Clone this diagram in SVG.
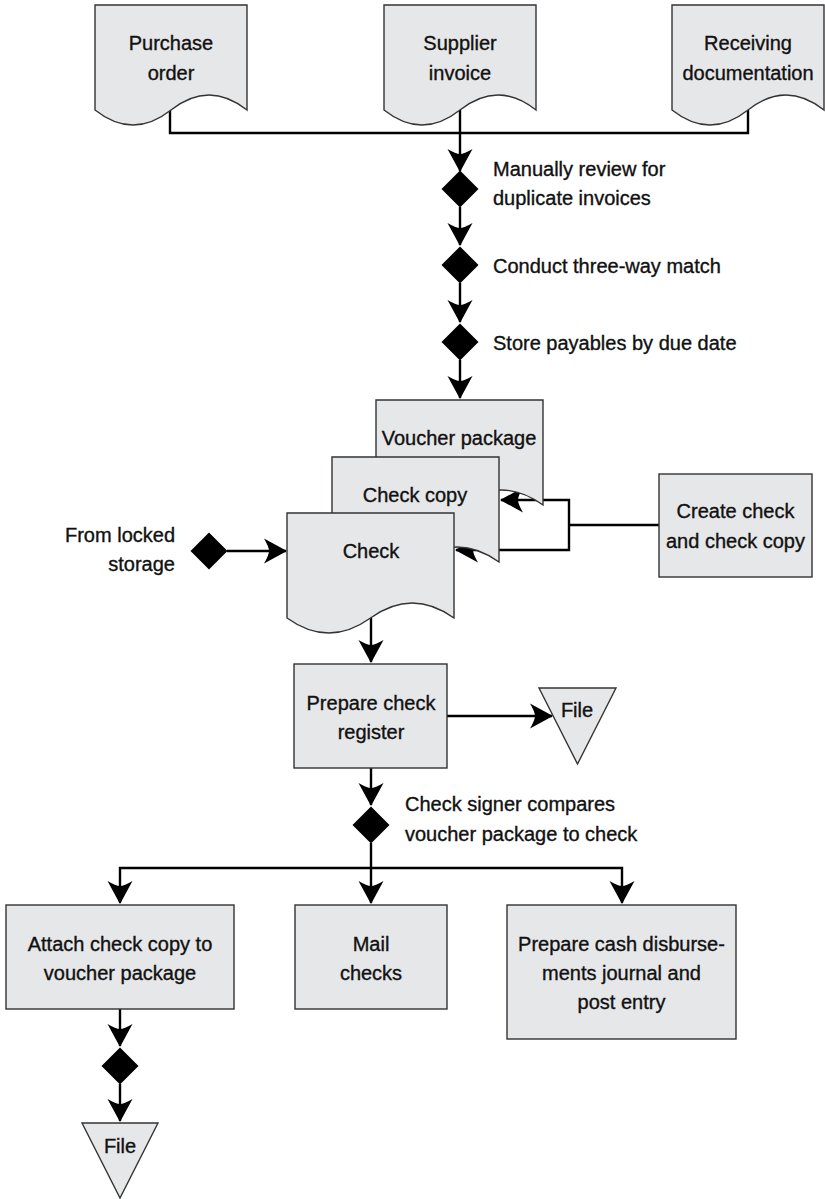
<svg xmlns="http://www.w3.org/2000/svg" width="825" height="1199" viewBox="0 0 825 1199">
<defs>
<style>
.doc,.box,.file{fill:#e6e7e8;stroke:#333;stroke-width:1.4}
.dia{fill:#000}
.ln{fill:none;stroke:#000;stroke-width:2.4}
text{font-family:"Liberation Sans",Arial,Helvetica,sans-serif;font-size:20px;fill:#111;stroke:#111;stroke-width:0.35px}
.c{text-anchor:middle}
.e{text-anchor:end}
</style>
<marker id="ah" viewBox="-23 -14 25 28" markerWidth="25" markerHeight="28" refX="0" refY="0" orient="auto-start-reverse" markerUnits="userSpaceOnUse">
<path d="M1,0 L-22,-12.5 Q-17,-4 -17,0 Q-17,4 -22,12.5 Z" fill="#000"/>
</marker>
</defs>
<rect width="825" height="1199" fill="#fff"/>

<g id="connectors">
<path class="ln" d="M170,110 V133 H748 V110"/>
<path class="ln" d="M460,110 V171" marker-end="url(#ah)"/>
<path class="ln" d="M460,207 V245" marker-end="url(#ah)"/>
<path class="ln" d="M460,283 V322" marker-end="url(#ah)"/>
<path class="ln" d="M460,360 V398" marker-end="url(#ah)"/>
<path class="ln" d="M659,525 H569"/>
<path class="ln" d="M501,500 H569 V550 H456" marker-start="url(#ah)" marker-end="url(#ah)"/>
<path class="ln" d="M227,551 H286" marker-end="url(#ah)"/>
<path class="ln" d="M371,618 V662" marker-end="url(#ah)"/>
<path class="ln" d="M447,716 H552" marker-end="url(#ah)"/>
<path class="ln" d="M371,768 V805" marker-end="url(#ah)"/>
<path class="ln" d="M371,843 V903" marker-end="url(#ah)"/>
<path class="ln" d="M120,903 V868 H622 V903" marker-start="url(#ah)" marker-end="url(#ah)"/>
<path class="ln" d="M120,1009 V1046" marker-end="url(#ah)"/>
<path class="ln" d="M120,1084 V1121" marker-end="url(#ah)"/>
</g>

<g id="purchase-order">
<path class="doc" d="M95,5 H247 V110 C221.7,90 196.3,90 171,110 C145.7,130 120.3,130 95,110 Z"/>
<text class="c" x="171" y="50">Purchase</text>
<text class="c" x="171" y="80">order</text>
</g>
<g id="supplier-invoice">
<path class="doc" d="M384,5 H536 V110 C510.7,90 485.3,90 460,110 C434.7,130 409.3,130 384,110 Z"/>
<text class="c" x="460" y="50">Supplier</text>
<text class="c" x="460" y="80">invoice</text>
</g>
<g id="receiving-documentation">
<path class="doc" d="M672,5 H824 V110 C798.7,90 773.3,90 748,110 C722.7,130 697.3,130 672,110 Z"/>
<text class="c" x="748" y="50">Receiving</text>
<text class="c" x="748" y="80">documentation</text>
</g>

<g id="review-duplicates">
<polygon class="dia" points="460,170.5 478.5,189 460,207.5 441.5,189"/>
<text x="493" y="176">Manually review for</text>
<text x="493" y="205">duplicate invoices</text>
</g>
<g id="three-way-match">
<polygon class="dia" points="460,246.5 478.5,265 460,283.5 441.5,265"/>
<text x="493" y="273">Conduct three-way match</text>
</g>
<g id="store-payables">
<polygon class="dia" points="460,323.5 478.5,342 460,360.5 441.5,342"/>
<text x="493" y="350">Store payables by due date</text>
</g>

<g id="voucher-package">
<path class="doc" d="M376,400 H543 V505 C515.2,485 487.3,485 459.5,505 C431.7,525 403.8,525 376,505 Z"/>
<text class="c" x="459" y="445">Voucher package</text>
</g>
<g id="check-copy">
<path class="doc" d="M332,457 H499 V562 C471.2,542 443.3,542 415.5,562 C387.7,582 359.8,582 332,562 Z"/>
<text class="c" x="415" y="502">Check copy</text>
</g>
<g id="check">
<path class="doc" d="M287,513 H454 V618 C426.2,598 398.3,598 370.5,618 C342.7,638 314.8,638 287,618 Z"/>
<text class="c" x="371" y="558">Check</text>
</g>

<g id="locked-storage">
<polygon class="dia" points="209,532.5 227.5,551 209,569.5 190.5,551"/>
<text class="e" x="175" y="542">From locked</text>
<text class="e" x="175" y="571">storage</text>
</g>

<g id="create-check">
<rect class="box" x="659" y="474" width="153" height="103"/>
<text class="c" x="735.5" y="518">Create check</text>
<text class="c" x="735.5" y="548">and check copy</text>
</g>

<g id="prepare-register">
<rect class="box" x="294" y="664" width="153" height="104"/>
<text class="c" x="371" y="710">Prepare check</text>
<text class="c" x="371" y="739">register</text>
</g>
<g id="file-register">
<polygon class="file" points="539,688 616,688 577.5,764"/>
<text class="c" x="577" y="717">File</text>
</g>

<g id="signer-compares">
<polygon class="dia" points="371,806.5 389.5,825 371,843.5 352.5,825"/>
<text x="405" y="811">Check signer compares</text>
<text x="405" y="841">voucher package to check</text>
</g>

<g id="attach-copy">
<rect class="box" x="6" y="905" width="228" height="104"/>
<text class="c" x="120" y="951">Attach check copy to</text>
<text class="c" x="120" y="980">voucher package</text>
</g>
<g id="mail-checks">
<rect class="box" x="295" y="905" width="152" height="104"/>
<text class="c" x="371" y="951">Mail</text>
<text class="c" x="371" y="980">checks</text>
</g>
<g id="cash-disbursements">
<rect class="box" x="507" y="905" width="229" height="134"/>
<text class="c" x="621.5" y="951">Prepare cash disburse-</text>
<text class="c" x="621.5" y="980">ments journal and</text>
<text class="c" x="621.5" y="1009">post entry</text>
</g>

<g id="attach-control">
<polygon class="dia" points="120,1047.5 138.5,1066 120,1084.5 101.5,1066"/>
</g>
<g id="file-attach">
<polygon class="file" points="82,1123 158,1123 120,1198"/>
<text class="c" x="120" y="1153">File</text>
</g>
</svg>
